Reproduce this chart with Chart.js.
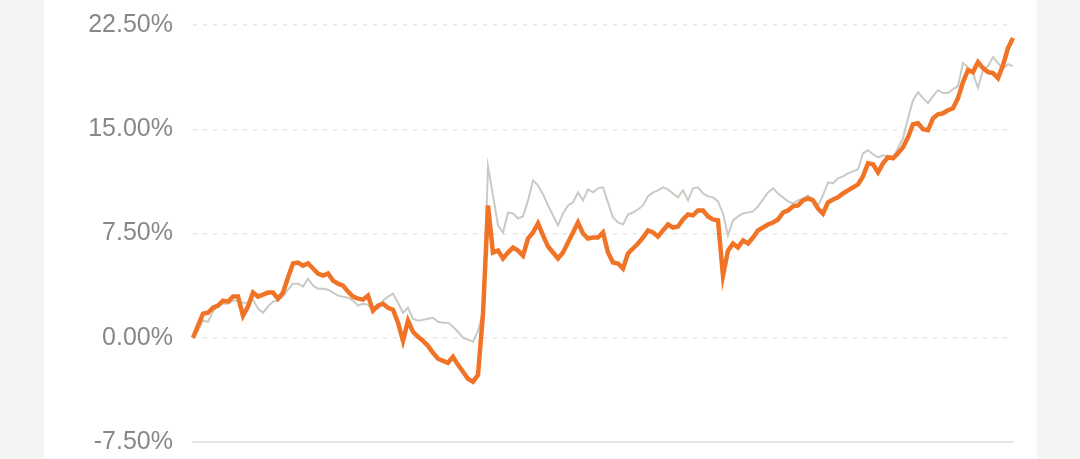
<!DOCTYPE html>
<html>
<head>
<meta charset="utf-8">
<script src="https://cdn.jsdelivr.net/npm/chart.js@4"></script>
<style>
  html, body { margin: 0; padding: 0; background: #f4f4f2; overflow: hidden; }
  #card { position: absolute; left: 44px; top: 0; width: 993px; height: 459px; background: #ffffff; overflow: hidden; }
  #perfChart { position: absolute; left: 0; top: -10px; }
</style>
</head>
<body>
<div id="card"><canvas id="perfChart" width="993" height="487"></canvas></div>
<script>
// fund return (%), orange
const fundValues = [
  0.00, 0.87, 1.73, 1.80, 2.16, 2.31, 2.67, 2.60, 2.96, 2.96,
  1.59, 2.24, 3.25, 2.96, 3.10, 3.25, 3.25, 2.81, 3.25, 4.33,
  5.34, 5.41, 5.19, 5.34, 4.98, 4.62, 4.47, 4.62, 4.11, 3.89,
  3.75, 3.32, 2.96, 2.81, 2.74, 3.03, 1.95, 2.31, 2.45, 2.16,
  2.02, 1.08, -0.22, 1.23, 0.43, 0.07, -0.22, -0.58, -1.08, -1.51,
  -1.66, -1.80, -1.37, -1.95, -2.45, -2.96, -3.17, -2.67, 1.73, 9.52,
  6.13, 6.27, 5.70, 6.13, 6.49, 6.27, 5.91, 7.14, 7.57, 8.22,
  7.36, 6.56, 6.13, 5.70, 6.13, 6.85, 7.57, 8.29, 7.50, 7.14,
  7.21, 7.21, 7.57, 6.13, 5.41, 5.34, 4.98, 6.06, 6.42, 6.78,
  7.21, 7.72, 7.57, 7.28, 7.72, 8.15, 7.93, 8.00, 8.51, 8.87,
  8.80, 9.16, 9.16, 8.73, 8.51, 8.44, 4.47, 6.27, 6.78, 6.49,
  7.00, 6.78, 7.21, 7.72, 7.93, 8.15, 8.29, 8.51, 9.01, 9.16,
  9.45, 9.52, 9.88, 10.02, 9.88, 9.30, 8.94, 9.74, 9.95, 10.10,
  10.38, 10.60, 10.82, 11.03, 11.61, 12.55, 12.48, 11.90, 12.55, 12.98,
  12.91, 13.27, 13.70, 14.42, 15.36, 15.43, 15.00, 14.93, 15.79, 16.08,
  16.15, 16.37, 16.51, 17.24, 18.39, 19.25, 19.11, 19.83, 19.40, 19.11,
  19.04, 18.68, 19.61, 20.84, 21.56
];

// benchmark return (%), grey
const benchValues = [
  -0.07, 0.50, 1.23, 1.15, 1.88, 2.31, 2.45, 2.45, 2.67, 2.67,
  2.52, 2.52, 2.74, 2.09, 1.80, 2.24, 2.60, 2.67, 2.96, 3.46,
  3.89, 3.89, 3.68, 4.25, 3.75, 3.53, 3.53, 3.46, 3.25, 3.03,
  2.96, 2.88, 2.67, 2.31, 2.45, 2.38, 1.95, 2.09, 2.67, 2.96,
  3.17, 2.52, 1.80, 2.16, 1.37, 1.23, 1.30, 1.37, 1.44, 1.15,
  1.08, 1.08, 0.79, 0.43, 0.00, -0.14, -0.29, 0.50, 1.80, 12.33,
  10.24, 8.08, 7.57, 9.01, 8.94, 8.58, 8.73, 9.88, 11.32, 10.96,
  10.31, 9.52, 8.80, 8.08, 8.94, 9.52, 9.74, 10.46, 9.88, 10.67,
  10.46, 10.75, 10.82, 9.74, 8.65, 8.29, 8.15, 8.87, 9.01, 9.23,
  9.52, 10.17, 10.46, 10.60, 10.82, 10.67, 10.38, 10.10, 10.60, 9.88,
  10.75, 10.82, 10.38, 10.17, 10.10, 9.81, 8.94, 7.36, 8.44, 8.73,
  8.94, 9.01, 9.09, 9.45, 9.95, 10.46, 10.75, 10.38, 10.10, 9.81,
  9.66, 9.88, 10.02, 10.24, 9.95, 9.52, 10.24, 11.18, 11.11, 11.47,
  11.61, 11.83, 11.97, 12.12, 13.27, 13.49, 13.20, 12.98, 13.13, 13.05,
  12.98, 13.63, 14.35, 15.79, 17.09, 17.67, 17.24, 16.88, 17.38, 17.81,
  17.60, 17.60, 17.88, 18.10, 19.76, 19.47, 19.04, 17.96, 19.25, 19.54,
  20.19, 19.76, 19.33, 19.69, 19.54
];

const dayLabels = fundValues.map((_, i) => i + 1);

const yMin = -7.5;
const yMax = 22.5;
const yStep = 7.5;

new Chart(document.getElementById("perfChart"), {
  type: "line",
  data: {
    labels: dayLabels,
    datasets: [
      {
        label: "fund",
        data: fundValues,
        borderColor: "#f07326",
        borderWidth: 4.5,
        pointRadius: 0,
        tension: 0,
        order: 1
      },
      {
        label: "benchmark",
        data: benchValues,
        borderColor: "#cacac5",
        borderWidth: 2,
        pointRadius: 0,
        tension: 0,
        order: 2
      }
    ]
  },
  options: {
    responsive: false,
    animation: false,
    layout: { padding: { left: 0, right: 24, top: 14, bottom: 0 } },
    plugins: { legend: { display: false }, tooltip: { enabled: false } },
    scales: {
      x: {
        display: true,
        grid: { display: false, drawTicks: false },
        ticks: { display: false },
        border: { display: true, color: "#e4e4e4", width: 2 },
        afterFit: (scale) => { scale.height = 0; }
      },
      y: {
        min: yMin,
        max: yMax,
        ticks: {
          stepSize: yStep,
          padding: 20,
          color: "#888888",
          font: { family: "Liberation Sans, Arial, sans-serif", size: 25 },
          callback: (v) => v.toFixed(2) + "%"
        },
        grid: { color: "#e6e6e6", lineWidth: 1.5, drawTicks: false },
        border: { display: false, dash: [4, 6] },
        afterFit: (scale) => { scale.width = 149; }
      }
    }
  }
});
</script>
</body>
</html>
